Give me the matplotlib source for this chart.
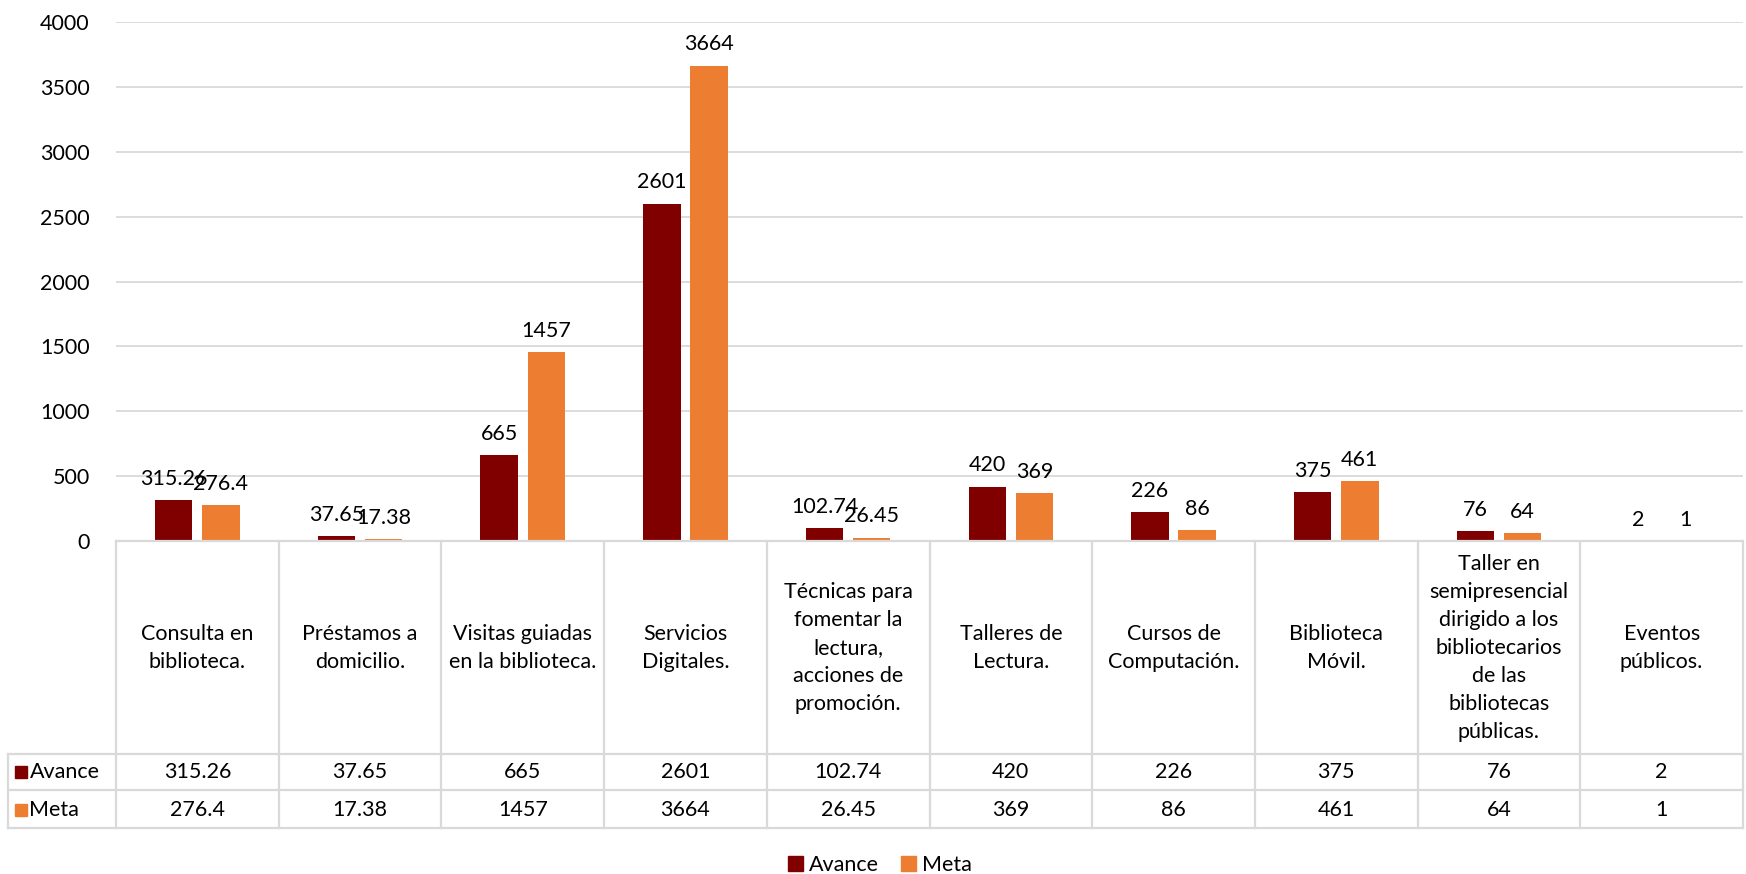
import matplotlib.pyplot as plt
import numpy as np
from matplotlib.patches import Patch

plt.rcParams["font.family"] = ["Lato", "DejaVu Sans"]

categories = [
    "Consulta en\nbiblioteca.",
    "Préstamos a\ndomicilio.",
    "Visitas guiadas\nen la biblioteca.",
    "Servicios\nDigitales.",
    "Técnicas para\nfomentar la\nlectura,\nacciones de\npromoción.",
    "Talleres de\nLectura.",
    "Cursos de\nComputación.",
    "Biblioteca\nMóvil.",
    "Taller en\nsemipresencial\ndirigido a los\nbibliotecarios\nde las\nbibliotecas\npúblicas.",
    "Eventos\npúblicos.",
]
avance = [315.26, 37.65, 665, 2601, 102.74, 420, 226, 375, 76, 2]
meta = [276.4, 17.38, 1457, 3664, 26.45, 369, 86, 461, 64, 1]
series_names = ["Avance", "Meta"]

C_AVANCE = "#800000"
C_META = "#ED7D31"
GRID = "#d9d9d9"
FS = 15.5

W, H = 1746, 874
fig = plt.figure(figsize=(W / 100, H / 100), dpi=100)

# --- bar area ---
ax = fig.add_axes([116 / W, (H - 541) / H, (1743 - 116) / W, (541 - 22) / H])
n = len(categories)
x = np.arange(n) + 0.5
off, bw = 0.145, 0.23
b1 = ax.bar(x - off, avance, width=bw, color=C_AVANCE, zorder=3)
b2 = ax.bar(x + off, meta, width=bw, color=C_META, zorder=3)
for bars, vals in ((b1, avance), (b2, meta)):
    for r, v in zip(bars, vals):
        ax.annotate(f"{v:g}", (r.get_x() + r.get_width() / 2, v), xytext=(0, 8),
                    textcoords="offset points", ha="center", va="bottom", fontsize=FS)

ax.set_xlim(0, n)
ax.set_ylim(0, 4000)
ax.set_yticks(np.arange(0, 4001, 500))
ax.set_xticks([])
ax.tick_params(axis="y", length=0, pad=19, labelsize=FS)
ax.grid(axis="y", color=GRID, lw=1.3, zorder=0)
for s in ax.spines.values():
    s.set_visible(False)

# --- data table below ---
tax = fig.add_axes([116 / W, (H - 828) / H, (1743 - 116) / W, (828 - 541) / H])
tax.set_xlim(0, n)
tax.set_ylim(287, 0)
tax.axis("off")
left = -0.664
lk = dict(color=GRID, lw=1.6, clip_on=False)
tax.plot([0, n], [0, 0], **lk)
for yy in (213, 249, 287):
    tax.plot([left, n], [yy, yy], **lk)
for xx in range(n + 1):
    tax.plot([xx, xx], [0, 287], **lk)
tax.plot([left, left], [213, 287], **lk)

for i, lab in enumerate(categories):
    tax.text(i + 0.5, 107, lab, ha="center", va="center", fontsize=FS, linespacing=1.5)
    tax.text(i + 0.5, 231, f"{avance[i]:g}", ha="center", va="center", fontsize=FS)
    tax.text(i + 0.5, 268.5, f"{meta[i]:g}", ha="center", va="center", fontsize=FS)

for yy, name, col in ((231, series_names[0], C_AVANCE), (268.5, series_names[1], C_META)):
    tax.plot([-0.584], [yy], marker="s", ms=9, color=col, clip_on=False)
    tax.text(-0.532, yy, name, ha="left", va="center", fontsize=FS)

handles = [Patch(color=C_AVANCE, label="Avance"), Patch(color=C_META, label="Meta")]
fig.legend(handles=handles, loc="center", bbox_to_anchor=(880 / W, (H - 865) / H),
           ncol=2, frameon=False, fontsize=FS, handlelength=0.7, handleheight=0.7,
           handletextpad=0.3, columnspacing=1.0)

fig.savefig("out.png", dpi=100)
